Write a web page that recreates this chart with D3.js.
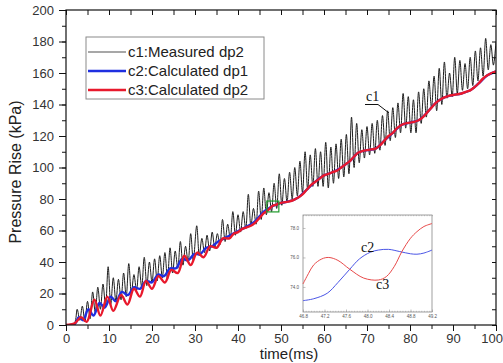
<!DOCTYPE html>
<html><head><meta charset="utf-8">
<script src="https://cdn.jsdelivr.net/npm/d3@7/dist/d3.min.js"></script>
<style>body{margin:0;background:#fff}svg{display:block}</style>
</head><body>
<svg id="c" width="503" height="363"></svg>
<script>
// ---- data ----
const xTicks = [0,10,20,30,40,50,60,70,80,90,100];
const yTicks = [0,20,40,60,80,100,120,140,160,180,200];
const legendLabels = ["c1:Measured dp2","c2:Calculated dp1","c3:Calculated dp2"];

// c1 measured dp2 : [time ms, kPa]
const c1 = [[0,0],[1,0.5],[2,1.5],[2.6,10],[3.2,3],[3.8,12],[4.4,2],[5.0,15],[5.6,4],[6.2,21],[6.8,8],[7.4,24],[8.0,10],[8.6,26],[9.2,12],[9.8,37],[10.4,13],[11.0,30],[11.6,15],[12.2,29],[12.8,16],[13.4,33],[14.0,18],[14.6,39],[15.2,20],[15.8,32],[16.4,22],[17.0,37],[17.6,24],[18.2,43],[18.8,25],[19.4,40],[20.0,27],[20.6,42],[21.2,28],[21.8,44],[22.4,30],[23.0,46],[23.6,29],[24.2,49],[24.8,33],[25.4,47],[26.0,36],[26.6,53],[27.2,38],[27.8,50],[28.4,40],[29.0,58],[29.6,41],[30.4,63],[31.0,44],[31.6,55],[32.2,46],[32.8,57],[33.4,47],[34.0,59],[34.6,49],[35.2,58],[35.8,51],[36.4,67],[37.0,53],[37.6,64],[38.2,55],[38.8,72],[39.4,57],[40.0,70],[40.6,59],[41.2,72],[41.8,61],[42.4,83],[43.0,63],[43.6,74],[44.2,64],[44.8,85],[45.4,67],[46.0,87],[46.6,70],[47.2,84],[47.8,72],[48.4,90],[49.0,74],[49.6,96],[50.2,76],[50.8,93],[51.4,78],[52.0,97],[52.6,80],[53.2,100],[53.8,82],[54.4,104],[55.0,84],[55.6,110],[56.2,86],[56.8,108],[57.4,88],[58.0,112],[58.6,88],[59.2,110],[59.8,88],[60.4,116],[61.0,87],[61.6,113],[62.2,90],[62.8,115],[63.4,93],[64.0,118],[64.6,94],[65.2,121],[65.8,96],[66.4,132],[67.0,100],[67.6,128],[68.2,103],[68.8,124],[69.4,106],[70.0,126],[70.6,108],[71.2,128],[71.8,109],[72.4,130],[73.0,111],[73.6,133],[74.2,114],[74.8,136],[75.4,117],[76.0,138],[76.6,119],[77.2,141],[77.8,122],[78.4,147],[79.0,125],[79.6,145],[80.2,122],[80.8,143],[81.4,122],[82.0,148],[82.6,128],[83.2,150],[83.8,132],[84.4,155],[85.0,138],[85.6,158],[86.2,136],[86.8,163],[87.4,140],[88.0,167],[88.6,144],[89.2,160],[89.8,145],[90.4,170],[91.0,147],[91.6,168],[92.2,149],[92.8,166],[93.4,150],[94.0,170],[94.6,152],[95.2,174],[95.8,155],[96.4,176],[97.0,158],[97.6,182],[98.2,162],[98.8,178],[99.4,165],[100.0,180]];

// c2 calculated dp1
const c2 = [[0,0],[2,0.5],[3.0,5],[4.0,3],[5.2,10],[6.4,6],[7.8,14],[9.0,11],[10.4,18],[11.6,15],[13.0,21],[14.4,19],[15.8,24],[17.2,23],[18.6,28],[20.0,27],[21.4,32],[22.8,31],[24.2,36],[25.6,36],[27.0,42],[28.4,41],[29.8,45],[31.2,45],[32.6,49],[34.0,50],[35.4,53],[36.8,55],[38.2,57],[39.6,59],[41,61],[42,62.5],[43,64],[44,66],[45,69],[46,72],[47,73.8],[48,75.5],[49,76.4],[50,77.5],[52,78.6],[54,81],[56,86],[58,91],[60,95],[62,97],[64,100],[66,104],[68,109.5],[70,111],[72,112],[74,117],[76,122],[78,127],[80,128.5],[82,130],[84,135],[86,141],[88,144.5],[90,146],[92,147],[94,149],[96,153.5],[98,158.5],[100,161]];

// c3 calculated dp2
const c3 = [[0,0],[2,1],[3.5,5],[4.8,2],[6.6,16],[8.0,6],[9.6,18],[11.0,9],[12.8,19],[14.3,13],[15.8,23],[17.2,18],[18.6,28],[20.0,23],[21.5,31],[23.0,27],[24.5,35],[26.0,33],[27.5,44],[29.0,38],[30.5,46],[32.0,43],[33.5,50],[35.0,49],[36.5,55],[38.0,55],[39.0,58],[40.0,59],[41.0,61],[42.0,62],[43.0,63],[44.0,65],[45.0,68],[46.0,71],[47.0,73],[48.0,75.5],[49.0,76.5],[50.0,77.5],[51.0,78],[52.0,78.5],[53.0,79.5],[54.0,81],[55.0,83],[56.0,86],[57.0,89],[58.0,91],[59.0,93],[60.0,95],[61.0,96],[62.0,97],[63.0,98],[64.0,100],[65.0,102],[66.0,104],[67.0,107],[68.0,109.5],[69.0,110.5],[70.0,111],[71.0,111.5],[72.0,112],[73.0,114],[74.0,117],[75.0,120],[76.0,122],[77.0,125],[78.0,127],[79.0,128],[80.0,128.5],[81.0,129],[82.0,130],[83.0,132],[84.0,135],[85.0,138],[86.0,141],[87.0,143],[88.0,144.5],[89.0,145.5],[90.0,146],[91.0,146.5],[92.0,147],[93.0,148],[94.0,149],[95.0,151],[96.0,153.5],[97.0,156.5],[98.0,158.5],[99.0,160],[100.0,161]];

// inset (zoom of 46.8-49.2 ms)
const insetXTicks = [46.8,47.2,47.6,48.0,48.4,48.8,49.2];
const insetYTicks = [74,76,78];
const insetC2 = [[46.8,73.07],[47.0,73.2],[47.25,73.57],[47.45,74.3],[47.67,75.2],[47.85,75.9],[48.05,76.35],[48.2,76.5],[48.39,76.55],[48.6,76.4],[48.8,76.25],[48.92,76.22],[49.05,76.3],[49.2,76.5]];
const insetC3 = [[46.8,74.2],[46.9,74.9],[47.0,75.5],[47.15,75.9],[47.28,76.0],[47.45,75.8],[47.67,75.2],[47.93,74.6],[48.2,74.47],[48.35,74.7],[48.5,75.4],[48.64,76.4],[48.8,77.3],[48.92,77.75],[49.05,78.1],[49.2,78.3]];
const zoomBox = {x0:46.7, x1:49.5, y0:71.8, y1:78.7};

// ---- drawing ----
const svg = d3.select("#c");
const L=66, R=496, T=10, B=325;
const x = d3.scaleLinear().domain([0,100]).range([L,R]);
const y = d3.scaleLinear().domain([0,200]).range([B,T]);
const sans = "'Liberation Sans', Arial, sans-serif";
const serif = "'Liberation Serif', 'Times New Roman', serif";

svg.append("clipPath").attr("id","pc").append("rect")
  .attr("x",L).attr("y",T).attr("width",R-L).attr("height",B-T);

const line = d3.line().x(d=>x(d[0])).y(d=>y(d[1])).curve(d3.curveCatmullRom.alpha(0.5));
const g = svg.append("g").attr("clip-path","url(#pc)");
g.append("path").datum(c1).attr("d",line).attr("fill","none").attr("stroke","#1e1e1e").attr("stroke-width",1);
g.append("path").datum(c2).attr("d",line).attr("fill","none").attr("stroke","#1f2fe0").attr("stroke-width",2.4);
g.append("path").datum(c3).attr("d",line).attr("fill","none").attr("stroke","#e8192c").attr("stroke-width",2.4);

// zoom rectangle
svg.append("rect").attr("x",x(zoomBox.x0)).attr("y",y(zoomBox.y1))
  .attr("width",x(zoomBox.x1)-x(zoomBox.x0)).attr("height",y(zoomBox.y0)-y(zoomBox.y1))
  .attr("fill","none").attr("stroke","#1e9a2a").attr("stroke-width",1.2);

// axes
const minorX = d3.range(0,101,5), minorY = d3.range(0,201,10);
const axB = d3.axisBottom(x).tickValues(minorX).tickSize(4).tickFormat("");
const axBM = d3.axisBottom(x).tickValues(xTicks).tickSize(6).tickPadding(3);
const axL = d3.axisLeft(y).tickValues(minorY).tickSize(4).tickFormat("");
const axLM = d3.axisLeft(y).tickValues(yTicks).tickSize(7).tickPadding(5);
const axT = d3.axisTop(x).tickValues(minorX).tickSize(-5).tickFormat("");
const axR = d3.axisRight(y).tickValues(minorY).tickSize(-4).tickFormat("");
function style(sel){
  sel.select(".domain").remove();
  sel.selectAll("line").attr("stroke","#111").attr("stroke-width",1);
  sel.selectAll("text").attr("font-family",sans).attr("font-size",13).attr("fill","#333");
}
svg.append("g").attr("transform",`translate(0,${B})`).call(axB).call(style);
const bm = svg.append("g").attr("transform",`translate(0,${B})`).call(axBM).call(style);
// keep the last label inside the picture
bm.selectAll(".tick text").filter(d=>d===100).attr("text-anchor","end").attr("x",6.5);
svg.append("g").attr("transform",`translate(${L},0)`).call(axL).call(style);
svg.append("g").attr("transform",`translate(${L},0)`).call(axLM).call(style);
svg.append("g").attr("transform",`translate(0,${T})`).call(axT).call(style);
svg.append("g").attr("transform",`translate(${R},0)`).call(axR).call(style);
svg.append("rect").attr("x",L).attr("y",T).attr("width",R-L).attr("height",B-T)
  .attr("fill","none").attr("stroke","#111").attr("stroke-width",1.2);

// axis titles
svg.append("text").attr("transform","translate(21,172) rotate(-90)").attr("text-anchor","middle")
  .attr("font-family",sans).attr("font-size",16).attr("fill","#222").text("Pressure Rise (kPa)");
svg.append("text").attr("x",289).attr("y",359).attr("text-anchor","middle")
  .attr("font-family",sans).attr("font-size",15).attr("fill","#222").text("time(ms)");

// legend
const lg = svg.append("g");
lg.append("rect").attr("x",86).attr("y",37).attr("width",178).attr("height",62)
  .attr("fill","#fff").attr("stroke","#8a8a8a").attr("stroke-width",1);
const lgColors = ["#8a8a8a","#1f2fe0","#e8192c"], lgW=[1.4,2.4,2.4];
legendLabels.forEach((t,i)=>{
  const yy = 52 + i*19;
  lg.append("line").attr("x1",88).attr("x2",126).attr("y1",yy).attr("y2",yy)
    .attr("stroke",lgColors[i]).attr("stroke-width",lgW[i]);
  lg.append("text").attr("x",128).attr("y",yy+5).attr("font-family",sans).attr("font-size",15)
    .attr("fill","#222").text(t);
});

// c1 annotation
svg.append("text").attr("x",366).attr("y",101).attr("font-family",serif).attr("font-size",14).attr("fill","#111").text("c1");
svg.append("path").attr("d","M365,104.5 L378,104.5 L389,113").attr("fill","none").attr("stroke","#111").attr("stroke-width",1);

// inset
const iL=303, iR=432, iT=215, iB=312;
const ix = d3.scaleLinear().domain([46.8,49.2]).range([iL,iR]);
const iy = d3.scaleLinear().domain([72.3,78.88]).range([iB,iT]);
const ins = svg.append("g");
ins.append("rect").attr("x",iL).attr("y",iT).attr("width",iR-iL).attr("height",iB-iT)
  .attr("fill","#fff").attr("stroke","#888").attr("stroke-width",0.8);
const iline = d3.line().x(d=>ix(d[0])).y(d=>iy(d[1])).curve(d3.curveCatmullRom.alpha(0.5));
ins.append("path").datum(insetC2).attr("d",iline).attr("fill","none").attr("stroke","#4a55e6").attr("stroke-width",1);
ins.append("path").datum(insetC3).attr("d",iline).attr("fill","none").attr("stroke","#e84a4a").attr("stroke-width",1);
const iMinor = d3.range(0,49).map(i=>46.8+i*0.05);
function istyle(sel){
  sel.select(".domain").remove();
  sel.selectAll("line").attr("stroke","#999").attr("stroke-width",0.6);
  sel.selectAll("text").attr("font-family",sans).attr("font-size",4.5).attr("fill","#555");
}
ins.append("g").attr("transform",`translate(0,${iB})`).call(d3.axisBottom(ix).tickValues(insetXTicks).tickSize(-2.5).tickPadding(3).tickFormat(d3.format(".1f"))).call(istyle);
ins.append("g").attr("transform",`translate(0,${iB})`).call(d3.axisBottom(ix).tickValues(iMinor).tickSize(-1.2).tickFormat("")).call(istyle);
ins.append("g").attr("transform",`translate(0,${iT})`).call(d3.axisTop(ix).tickValues(iMinor).tickSize(-1.2).tickFormat("")).call(istyle);
ins.append("g").attr("transform",`translate(${iL},0)`).call(d3.axisLeft(iy).tickValues(insetYTicks).tickSize(-2.5).tickPadding(4)).call(istyle);
ins.append("text").attr("x",361).attr("y",252).attr("font-family",serif).attr("font-size",14).attr("fill","#111").text("c2");
ins.append("text").attr("x",376).attr("y",288.5).attr("font-family",serif).attr("font-size",14).attr("fill","#111").text("c3");
</script>
</body></html>
